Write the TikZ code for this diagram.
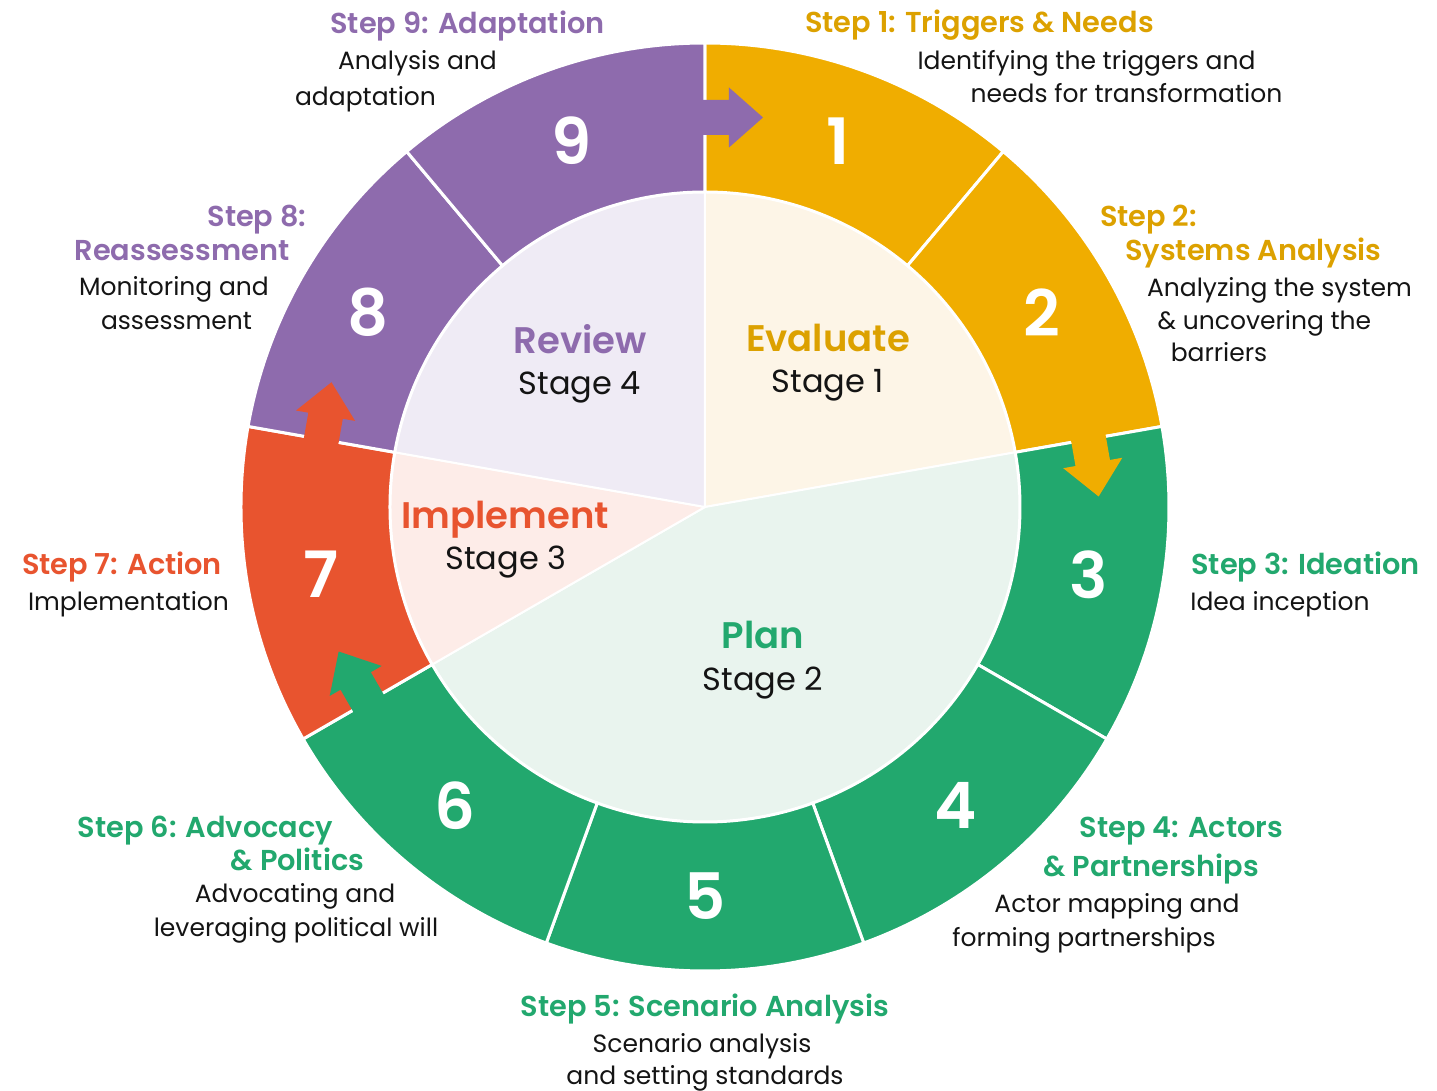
\documentclass[tikz,border=0pt]{standalone}
\usepackage{fontspec}
\setmainfont{Poppins}[BoldFont={* SemiBold}]
\usetikzlibrary{positioning}
\definecolor{evalc}{HTML}{F0AD00}
\definecolor{evaltxt}{HTML}{DCA100}
\definecolor{planc}{HTML}{22A86E}
\definecolor{implc}{HTML}{E8542F}
\definecolor{revc}{HTML}{8E6BAD}
\definecolor{evalbg}{HTML}{FDF5E7}
\definecolor{planbg}{HTML}{E9F4EE}
\definecolor{implbg}{HTML}{FDECE8}
\definecolor{revbg}{HTML}{EFEBF5}
\definecolor{ink}{HTML}{141414}

\begin{document}
\begin{tikzpicture}[x=0.5pt, y=0.5pt,
    ring/.style={fill=#1, draw=white, line width=1.5pt},
    pie/.style={fill=#1, draw=white, line width=1pt},
    num/.style={text=white, font=\bfseries\fontsize{32}{32}\selectfont},
    steptitle/.style={text=#1, anchor=base, inner sep=0pt, font=\bfseries\fontsize{14.4}{16}\selectfont},
    stepbody/.style={text=ink, anchor=base, inner sep=0pt, font=\fontsize{12.5}{15}\selectfont},
    stagename/.style={text=#1, anchor=base, inner sep=0pt, font=\bfseries\fontsize{18.5}{20}\selectfont},
    stagenum/.style={text=ink, anchor=base, inner sep=0pt, font=\fontsize{16}{20}\selectfont}]

\useasboundingbox (-705,-584) rectangle (732,507);

\draw[pie=evalbg] (0,0) -- (90:315) arc[start angle=90, end angle=10, radius=315] -- cycle;
\draw[pie=planbg] (0,0) -- (10:315) arc[start angle=10, end angle=-150, radius=315] -- cycle;
\draw[pie=implbg] (0,0) -- (210:315) arc[start angle=210, end angle=170, radius=315] -- cycle;
\draw[pie=revbg] (0,0) -- (170:315) arc[start angle=170, end angle=90, radius=315] -- cycle;

\foreach \k/\c in {1/evalc,2/evalc,3/planc,4/planc,5/planc,6/planc,7/implc,8/revc,9/revc} {
  \pgfmathsetmacro\a{130-40*\k}
  \pgfmathsetmacro\b{90-40*\k}
  \pgfmathsetmacro\m{110-40*\k}
  \draw[ring=\c] (\a:315) arc[start angle=\a, end angle=\b, radius=315] -- (\b:464)
    arc[start angle=\b, end angle=\a, radius=464] -- cycle;
  \node[num] (n\k) at (\m:389.5) {\k};
}

\foreach \a/\c in {90/revc, 10/evalc, 210/planc, 170/implc} {
  \begin{scope}[shift={(\a:389.5)}, rotate=\a-90]
    \fill[\c] (-20,-17.5) -- (24,-17.5) -- (24,-30) -- (58,0) -- (24,30) -- (24,17.5) -- (-20,17.5) -- cycle;
  \end{scope}
}

\node[stagename=revc] (review) at (-125,153) {Review};
\node[stagenum] (stage4) at (-125,112) {Stage 4};
\node[stagename=evaltxt] (evaluate) at (123,155) {Evaluate};
\node[stagenum] (stage1) at (123,114) {Stage 1};
\node[stagename=implc] (implement) at (-200,-22) {Implement};
\node[stagenum] (stage3) at (-199,-63) {Stage 3};
\node[stagename=planc] (plan) at (58,-142) {Plan};
\node[stagenum] (stage2) at (58,-184) {Stage 2};

\node[steptitle=revc] (t9) at (-237.5,473) {Step 9: Adaptation};
\node[stepbody] (t9a) at (-287.5,437) {Analysis and};
\node[stepbody] (t9b) at (-339.5,401) {adaptation};

\node[steptitle=evaltxt] (t1) at (274.5,474) {Step 1: Triggers \& Needs};
\node[stepbody] (t1a) at (381.5,437) {Identifying the triggers and};
\node[stepbody] (t1b) at (421.5,404) {needs for transformation};

\node[steptitle=evaltxt] (t2) at (443.5,280) {Step 2:};
\node[steptitle=evaltxt] (t2b) at (548.5,246) {Systems Analysis};
\node[stepbody] (t2c) at (574.5,210) {Analyzing the system};
\node[stepbody] (t2d) at (559.5,177) {\& uncovering the};
\node[stepbody] (t2e) at (514,145) {barriers};

\node[steptitle=planc] (t3) at (600.5,-68) {Step 3: Ideation};
\node[stepbody] (t3a) at (575,-104) {Idea inception};

\node[steptitle=planc] (t4) at (476.5,-331) {Step 4: Actors};
\node[steptitle=planc] (t4b) at (446,-370) {\& Partnerships};
\node[stepbody] (t4c) at (412,-406) {Actor mapping and};
\node[stepbody] (t4d) at (379,-440) {forming partnerships};

\node[steptitle=planc] (t5) at (0,-510) {Step 5: Scenario Analysis};
\node[stepbody] (t5a) at (-3,-546) {Scenario analysis};
\node[stepbody] (t5b) at (0,-578) {and setting standards};

\node[steptitle=planc] (t6) at (-499.5,-331) {Step 6: Advocacy};
\node[steptitle=planc] (t6b) at (-407.5,-364) {\& Politics};
\node[stepbody] (t6c) at (-410,-396) {Advocating and};
\node[stepbody] (t6d) at (-409,-430) {leveraging political will};

\node[steptitle=implc] (t7) at (-583,-68) {Step 7: Action};
\node[stepbody] (t7a) at (-576.5,-104) {Implementation};

\node[steptitle=revc] (t8) at (-448,280) {Step 8:};
\node[steptitle=revc] (t8b) at (-523,246) {Reassessment};
\node[stepbody] (t8c) at (-531,211) {Monitoring and};
\node[stepbody] (t8d) at (-528.5,177) {assessment};
\end{tikzpicture}
\end{document}
